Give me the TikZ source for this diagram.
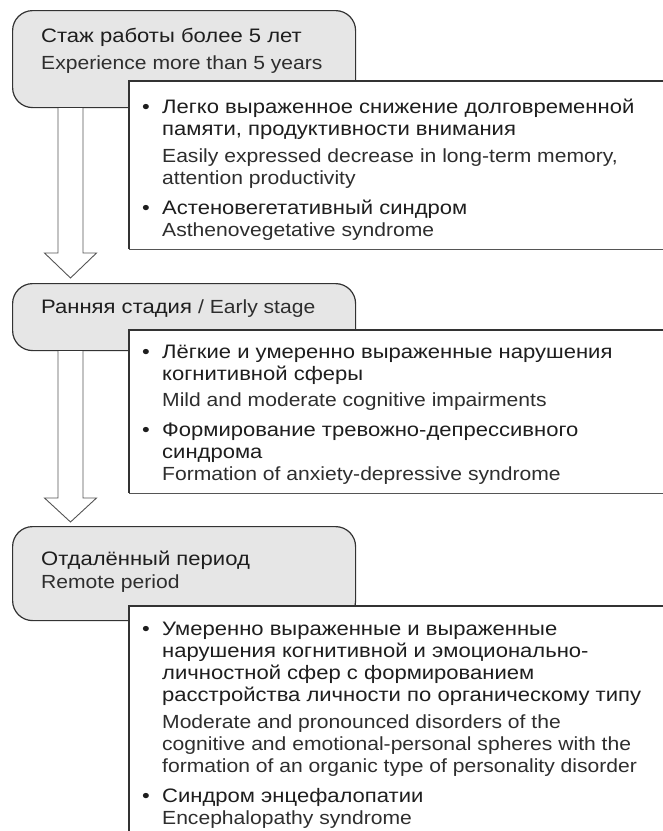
\documentclass[tikz,border=0pt]{standalone}
\usepackage{fontspec}
\setmainfont{Liberation Sans}
\newfontfamily\rufont{Liberation Sans}[FakeStretch=1.13]
\newfontfamily\enfont{Liberation Sans}[FakeStretch=1.11]
\usetikzlibrary{calc}
\definecolor{boxgray}{HTML}{E6E6E6}
\definecolor{linegray}{HTML}{333333}
\definecolor{arrowgray}{HTML}{555555}
\definecolor{rutext}{HTML}{1E1E1E}
\definecolor{entext}{HTML}{2E2E2E}
\newcommand{\rutx}{\rufont\fontsize{19.5}{22}\selectfont\color{rutext}}
\newcommand{\entx}{\enfont\fontsize{19}{22}\selectfont\color{entext}}
\newcommand{\bul}{\makebox[20pt][l]{\rutx •}}
\begin{document}
\begin{tikzpicture}[x=1pt,y=-1pt,
  stagebox/.style={draw=linegray, line width=1.2pt, fill=boxgray, rounded corners=20pt, anchor=north west, minimum width=343pt, inner sep=0pt},
  infobox/.style={fill=white, anchor=north west, minimum width=540pt, inner sep=0pt},
  infoline/.style={draw=linegray, line width=1.2pt},
  infobottom/.style={draw=arrowgray, line width=1.8pt},
  bigarrow/.style={draw=arrowgray, line width=0.9pt, fill=white, line join=miter},
  txt/.style={anchor=base west, inner sep=0pt, align=left}
]
\useasboundingbox (0,0) rectangle (663,831);

% stage boxes
\node[stagebox, minimum height=97pt] (s1) at (12,10) {};
\node[stagebox, minimum height=67pt] (s2) at (12,283) {};
\node[stagebox, minimum height=94pt] (s3) at (12,526) {};

% arrows
\coordinate (a1s) at ($(s1.south west)+(58.5,0)$);
\coordinate (a1t) at ($(s2.north west)+(58.5,-5)$);
\coordinate (a2s) at ($(s2.south west)+(58.5,0)$);
\coordinate (a2t) at ($(s3.north west)+(58.5,-4)$);
\draw[bigarrow] ($(a1s)+(-12.5,0)$) -- ($(a1t)+(-12.5,-25)$) -- ($(a1t)+(-26,-25)$) -- (a1t)
  -- ($(a1t)+(26,-25)$) -- ($(a1t)+(12.5,-25)$) -- ($(a1s)+(12.5,0)$);
\draw[bigarrow] ($(a2s)+(-12.5,0)$) -- ($(a2t)+(-12.5,-24)$) -- ($(a2t)+(-26,-24)$) -- (a2t)
  -- ($(a2t)+(26,-24)$) -- ($(a2t)+(12.5,-24)$) -- ($(a2s)+(12.5,0)$);

% titles
\node[txt] (h1) at (41,42) {\rutx\begin{tabular}[t]{@{}l@{}}
  \rutx Стаж работы более 5 лет\\[5pt]
  \entx Experience more than 5 years
\end{tabular}};
\node[txt] (h2) at (41,313) {\rutx Ранняя стадия {\entx / Early stage}};
\node[txt] (h3) at (41,565) {\rutx\begin{tabular}[t]{@{}l@{}}
  \rutx Отдалённый период\\[1pt]
  \entx Remote period
\end{tabular}};

% info boxes
\node[infobox, minimum height=168pt] (r1) at (129,81) {};
\draw[infoline] (r1.north east) -- (r1.north west) -- (r1.south west);
\draw[infobottom] (r1.south west) -- (r1.south east);
\node[infobox, minimum height=163pt] (r2) at (129,330) {};
\draw[infoline] (r2.north east) -- (r2.north west) -- (r2.south west);
\draw[infobottom] (r2.south west) -- (r2.south east);
\node[infobox, minimum height=260pt] (r3) at (129,606) {};
\draw[infoline] (r3.north east) -- (r3.north west) -- (r3.south west);

\node[txt] (t1) at (142,113) {\rutx\begin{tabular}[t]{@{}l@{}l@{}}
  \bul & \rutx Легко выраженное снижение долговременной\\
       & \rutx памяти, продуктивности внимания\\[5pt]
       & \entx Easily expressed decrease in long-term memory,\\
       & \entx attention productivity\\[8pt]
  \bul & \rutx Астеновегетативный синдром\\
       & \entx Asthenovegetative syndrome
\end{tabular}};

\node[txt] (t2) at (142,358) {\rutx\begin{tabular}[t]{@{}l@{}l@{}}
  \bul & \rutx Лёгкие и умеренно выраженные нарушения\\
       & \rutx когнитивной сферы\\[4pt]
       & \entx Mild and moderate cognitive impairments\\[8pt]
  \bul & \rutx Формирование тревожно-депрессивного\\
       & \rutx синдрома\\[0pt]
       & \entx Formation of anxiety-depressive syndrome
\end{tabular}};

\node[txt] (t3) at (142,635) {\rutx\begin{tabular}[t]{@{}l@{}l@{}}
  \bul & \rutx Умеренно выраженные и выраженные\\
       & \rutx нарушения когнитивной и эмоционально-\\
       & \rutx личностной сфер с формированием\\
       & \rutx расстройства личности по органическому типу\\[5pt]
       & \entx Moderate and pronounced disorders of the\\
       & \entx cognitive and emotional-personal spheres with the\\
       & \entx formation of an organic type of personality disorder\\[8pt]
  \bul & \rutx Синдром энцефалопатии\\
       & \entx Encephalopathy syndrome
\end{tabular}};
\end{tikzpicture}
\end{document}
